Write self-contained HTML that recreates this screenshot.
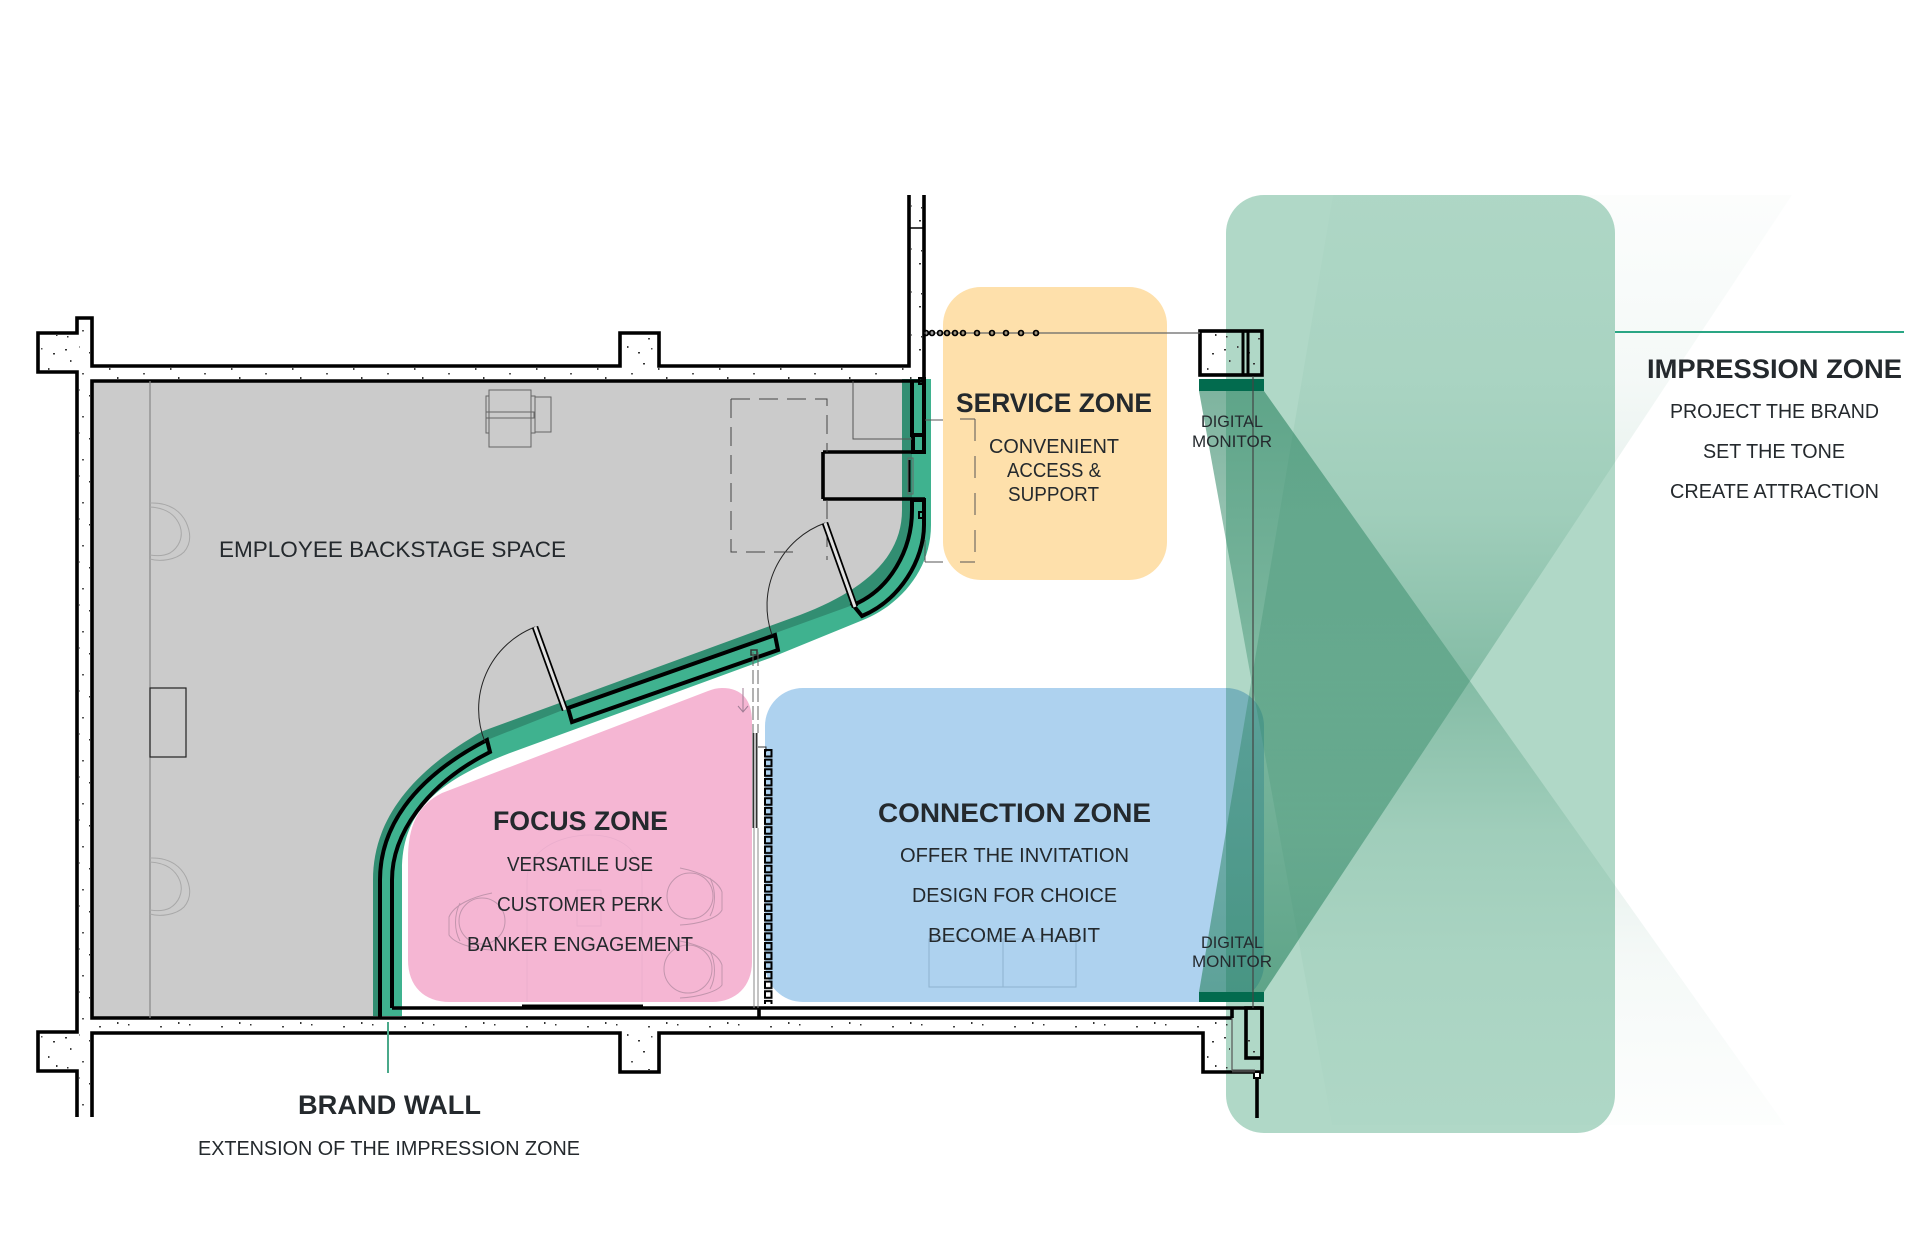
<!DOCTYPE html>
<html>
<head>
<meta charset="utf-8">
<style>
html,body{margin:0;padding:0;background:#fff;}
svg{display:block;}
text{font-family:"Liberation Sans",sans-serif;fill:#24292d;}
.b{font-weight:bold;font-size:26.5px;}
.r{font-size:20px;}
.s{font-size:17px;}
</style>
</head>
<body>
<svg width="1920" height="1242" viewBox="0 0 1920 1242" xmlns="http://www.w3.org/2000/svg">
<defs>
<pattern id="dots" width="61" height="43" patternUnits="userSpaceOnUse">
<rect x="4" y="5" width="2" height="1.5" fill="#333"/><rect x="17" y="2" width="1.5" height="2" fill="#444"/>
<rect x="28" y="8" width="2" height="1.5" fill="#333"/><rect x="41" y="4" width="1.5" height="1.5" fill="#555"/>
<rect x="53" y="9" width="2" height="1.5" fill="#333"/><rect x="9" y="16" width="1.5" height="2" fill="#444"/>
<rect x="33" y="19" width="2" height="1.5" fill="#333"/><rect x="48" y="24" width="1.5" height="2" fill="#444"/>
<rect x="21" y="29" width="2" height="1.5" fill="#555"/><rect x="6" y="35" width="1.5" height="1.5" fill="#333"/>
<rect x="38" y="37" width="2" height="1.5" fill="#444"/><rect x="56" y="33" width="1.5" height="2" fill="#333"/>
</pattern>
<pattern id="sq" x="764" y="749" width="9" height="9.65" patternUnits="userSpaceOnUse">
<rect x="1" y="1" width="6.5" height="6.5" fill="none" stroke="#000" stroke-width="2"/>
</pattern>
<linearGradient id="g1" gradientUnits="userSpaceOnUse" x1="0" y1="391" x2="0" y2="1125">
<stop offset="0" stop-color="#28825f" stop-opacity=".6"/>
<stop offset=".3" stop-color="#28825f" stop-opacity=".42"/>
<stop offset=".475" stop-color="#28825f" stop-opacity=".24"/>
<stop offset=".6" stop-color="#28825f" stop-opacity=".12"/>
<stop offset=".77" stop-color="#28825f" stop-opacity=".05"/>
<stop offset="1" stop-color="#28825f" stop-opacity=".01"/>
</linearGradient>
<linearGradient id="g2" gradientUnits="userSpaceOnUse" x1="0" y1="992" x2="0" y2="195">
<stop offset="0" stop-color="#28825f" stop-opacity=".6"/>
<stop offset=".3" stop-color="#28825f" stop-opacity=".42"/>
<stop offset=".475" stop-color="#28825f" stop-opacity=".24"/>
<stop offset=".6" stop-color="#28825f" stop-opacity=".12"/>
<stop offset=".77" stop-color="#28825f" stop-opacity=".05"/>
<stop offset="1" stop-color="#28825f" stop-opacity=".015"/>
</linearGradient>
</defs>

<!-- floor -->
<path d="M92 381H912V510C912 550 890 590 853 605L568 708L487 740C410 780 380 830 380 880V1018H92Z" fill="#cbcbcb"/>
<!-- brand wall band -->
<path d="M373 1016V880C373 825 405 775 483 731L800 615C860 592 902 560 902 510V379H931V525C931 570 900 605 863 620L770 658L510 753C440 780 402 810 402 870V1016Z" fill="#3fb28f" style="mix-blend-mode:multiply"/>

<!-- zones -->
<rect x="943" y="287" width="224" height="293" rx="38" fill="#fee0ab"/>
<path d="M722 688C742 688 752 700 752 722V962C752 986 736 1002 712 1002H450C424 1002 408 986 408 960V860C408 825 418 805 442 793L708 691C713 689 717 688 722 688Z" fill="#f5b6d3"/>
<rect x="765" y="688" width="499" height="314" rx="38" fill="#aed2ef"/>
<rect x="1226" y="195" width="389" height="938" rx="38" fill="#b0d8c7" style="mix-blend-mode:multiply"/>
<!-- beams -->
<polygon points="1199,391 1264,391 1785,1125 1332,1125" fill="url(#g1)"/>
<polygon points="1199,992 1264,992 1792,195 1333,195" fill="url(#g2)"/>
<!-- monitor bars -->
<rect x="1199" y="379" width="65" height="12" fill="#026b4e"/>
<rect x="1199" y="992" width="65" height="10" fill="#026b4e"/>

<!-- concrete speckle -->
<g fill="url(#dots)">
<rect x="92" y="368" width="830" height="11"/>
<rect x="79" y="320" width="11" height="795"/>
<rect x="40" y="335" width="38" height="35"/>
<rect x="40" y="1034" width="38" height="36"/>
<rect x="622" y="335" width="36" height="32"/>
<rect x="622" y="1034" width="36" height="36"/>
<rect x="911" y="195" width="11" height="185"/>
<rect x="92" y="1020" width="1140" height="12"/>
<rect x="1202" y="333" width="58" height="40"/>
<rect x="1205" y="1034" width="25" height="36"/>
<rect x="1248" y="1009" width="10" height="48"/>
</g>

<!-- walls -->
<g fill="none" stroke="#000" stroke-width="3.6">
<path d="M77 1117V1071H38V1032H77V372H38V333H77V318H92V366H620V333H659V366H909V195"/>
<path d="M924 195V381H92V1018H1232"/>
<path d="M92 1117V1033H620V1072H659V1033H1203V1072H1262V1007"/>
<path d="M392 1008H1262"/>
<rect x="1200" y="331" width="62" height="44"/>
<path d="M1243 331V375M1248 331V375" stroke-width="3"/>
<rect x="1246" y="1008" width="16" height="50"/>
<path d="M1232 1008V1018M759 1008V1018"/>
<path d="M1257 1074V1118"/>
<path d="M522 1006H643" stroke-width="3"/>
<!-- brand wall segments -->
<path stroke-width="4" d="M380 1018V880C380 830 410 780 487 740L490 752C425 785 392 835 392 880V1008"/>
<path stroke-width="4" d="M568 708L775 635L778 650L572 722Z"/>
<path stroke-width="4" d="M853 605C890 590 912 550 912 510V500H924V525C924 560 900 600 862 616Z"/>
<path stroke-width="4" d="M912 381V435H924V381M913 435V452H924V435"/>
<path d="M823 452H925M823 499H925M823 452V499"/>
<path d="M909 460V492" stroke-width="3"/>
<rect x="919" y="378" width="6" height="6" stroke-width="2"/>
<rect x="919" y="512" width="6" height="6" stroke-width="2"/>
<rect x="751" y="650" width="6" height="5" stroke-width="1.5" stroke="#333"/>
</g>
<rect x="1254" y="1072" width="6" height="6" fill="#fff" stroke="#000" stroke-width="2"/>
<path d="M1232 1071H1255" stroke="#444" stroke-width="3"/>

<!-- thin lines -->
<g fill="none" stroke="#555" stroke-width="1">
<path d="M924 333H1200" stroke="#666" stroke-width="1.2"/>
<path d="M1253 376V1008" stroke="#444" stroke-width="1.2"/>
<path d="M1232 1018V1071" stroke="#555" stroke-width="1.2"/>
<path d="M925 228H909" stroke="#000" stroke-width="1.5"/>
<path d="M150 381V1018" stroke="#888" stroke-width="1.2"/>
<rect x="150" y="688" width="36" height="69" stroke="#222" stroke-width="1.2"/>
<path d="M853 381V439H912" stroke="#555"/>
<path d="M535 627A88 88 0 0 0 485 742" stroke="#222"/>
<path d="M825 523A88 88 0 0 0 772 635" stroke="#222"/>
<rect x="908" y="458" width="5" height="36" stroke="#666"/>
<!-- dashed -->
<path d="M731 399H827V452M827 500V560M731 399V552H800" stroke="#444" stroke-dasharray="19 9"/>
<path d="M925 420H943M925 562H943M925 540V562" stroke="#555"/>
<path d="M975 419V562" stroke="#555" stroke-dasharray="22 15"/>
<path d="M960 419H975M960 562H975" stroke="#555"/>
<path d="M753 652V733M758 652V733" stroke="#666" stroke-dasharray="14 4"/>
<path d="M743 688V712M738 706L743 712L748 706" stroke="#a07d95"/>
<path d="M754 828V1008M758 828V1008" stroke="#888"/>
<path d="M758 747H766V752" stroke="#333"/>
<!-- copier -->
<g stroke="#666">
<rect x="489" y="390" width="42" height="57"/>
<rect x="486" y="412" width="48" height="6"/>
<rect x="535" y="397" width="16" height="35"/>
<path d="M531 396H535V433H531M489 396H486V433H489"/>
</g>
<!-- back chairs -->
<g stroke="#a8a8a8">
<path d="M150 503C172 502 182 514 186 522C192 535 190 545 184 552C176 560 160 562 150 559"/>
<path d="M150 507C168 508 176 516 180 526C184 538 178 548 170 553C164 556 156 556 150 555"/>
<path d="M150 858C172 857 182 869 186 877C192 890 190 900 184 907C176 915 160 917 150 914"/>
<path d="M150 862C168 863 176 871 180 881C184 893 178 903 170 908C164 911 156 911 150 910"/>
</g>
<!-- focus chairs -->
<g stroke="#c295ad">
<path d="M680 868C700 872 718 880 722 892V910C718 918 700 924 680 925"/>
<path d="M710 878C716 890 716 905 710 916"/>
<circle cx="690" cy="896" r="23"/>
<path d="M680 941C700 945 718 953 722 965V985C718 991 700 997 680 998"/>
<path d="M710 951C716 963 716 978 710 989"/>
<circle cx="688" cy="969" r="24"/>
<path d="M492 893C472 897 454 905 449 917V935C454 943 472 949 492 950"/>
<path d="M460 903C454 915 454 930 460 941"/>
<circle cx="482" cy="921" r="23"/>
</g>
<g stroke="#eaaecd" stroke-width=".8"><path d="M527 1002V880C527 850 560 835 590 835C620 835 642 850 642 880V1002"/><rect x="577" y="890" width="24" height="36"/></g>
<!-- tables -->
<g stroke="#8fb3cf"><rect x="929" y="939" width="147" height="48"/><path d="M1003 939V987"/></g>
</g>

<!-- doors -->
<g fill="none">
<path d="M535 627L565 710" stroke="#000" stroke-width="6.5"/><path d="M535 627L565 710" stroke="#e2e2e2" stroke-width="3"/>
<path d="M825 523L855 607" stroke="#000" stroke-width="6.5"/><path d="M825 523L855 607" stroke="#e2e2e2" stroke-width="3"/>
<path d="M755 733V828" stroke="#333" stroke-width="5"/><path d="M755 733V828" stroke="#bbb" stroke-width="2"/>
</g>

<!-- squares column -->
<rect x="764" y="749" width="9" height="255" fill="url(#sq)"/>
<!-- dotted line -->
<g fill="none" stroke="#000" stroke-width="1.8">
<circle cx="926" cy="333" r="2.4"/><circle cx="932" cy="333" r="2.4"/><circle cx="940" cy="333" r="2.4"/><circle cx="947" cy="333" r="2.4"/><circle cx="955" cy="333" r="2.4"/><circle cx="963" cy="333" r="2.4"/>
<circle cx="977" cy="333" r="2.4"/><circle cx="992" cy="333" r="2.4"/><circle cx="1006" cy="333" r="2.4"/><circle cx="1021" cy="333" r="2.4"/><circle cx="1036" cy="333" r="2.4"/>
</g>

<!-- green leaders -->
<path d="M1615 332H1904" stroke="#2aa684" stroke-width="2"/>
<path d="M388 1022V1073" stroke="#4aa98a" stroke-width="2"/>

<!-- labels -->
<text x="219" y="557" style="font-size:22px" textLength="347" lengthAdjust="spacingAndGlyphs">EMPLOYEE BACKSTAGE SPACE</text>

<text class="b" x="956" y="412" textLength="196" lengthAdjust="spacingAndGlyphs">SERVICE ZONE</text>
<text class="r" x="989" y="453" textLength="130" lengthAdjust="spacingAndGlyphs">CONVENIENT</text>
<text class="r" x="1007" y="477" textLength="94" lengthAdjust="spacingAndGlyphs">ACCESS &amp;</text>
<text class="r" x="1008" y="501" textLength="91" lengthAdjust="spacingAndGlyphs">SUPPORT</text>

<text class="s" x="1201" y="427" textLength="62" lengthAdjust="spacingAndGlyphs">DIGITAL</text>
<text class="s" x="1192" y="447" textLength="80" lengthAdjust="spacingAndGlyphs">MONITOR</text>
<text class="s" x="1201" y="948" textLength="62" lengthAdjust="spacingAndGlyphs">DIGITAL</text>
<text class="s" x="1192" y="967" textLength="80" lengthAdjust="spacingAndGlyphs">MONITOR</text>

<text class="b" x="493" y="830" textLength="175" lengthAdjust="spacingAndGlyphs">FOCUS ZONE</text>
<text class="r" x="507" y="871" textLength="146" lengthAdjust="spacingAndGlyphs">VERSATILE USE</text>
<text class="r" x="497" y="911" textLength="166" lengthAdjust="spacingAndGlyphs">CUSTOMER PERK</text>
<text class="r" x="467" y="951" textLength="226" lengthAdjust="spacingAndGlyphs">BANKER ENGAGEMENT</text>

<text class="b" x="878" y="822" textLength="273" lengthAdjust="spacingAndGlyphs">CONNECTION ZONE</text>
<text class="r" x="900" y="862" textLength="229" lengthAdjust="spacingAndGlyphs">OFFER THE INVITATION</text>
<text class="r" x="912" y="902" textLength="205" lengthAdjust="spacingAndGlyphs">DESIGN FOR CHOICE</text>
<text class="r" x="928" y="942" textLength="172" lengthAdjust="spacingAndGlyphs">BECOME A HABIT</text>

<text class="b" x="1647" y="378" textLength="255" lengthAdjust="spacingAndGlyphs">IMPRESSION ZONE</text>
<text class="r" x="1670" y="418" textLength="209" lengthAdjust="spacingAndGlyphs">PROJECT THE BRAND</text>
<text class="r" x="1703" y="458" textLength="142" lengthAdjust="spacingAndGlyphs">SET THE TONE</text>
<text class="r" x="1670" y="498" textLength="209" lengthAdjust="spacingAndGlyphs">CREATE ATTRACTION</text>

<text class="b" x="298" y="1114" textLength="183" lengthAdjust="spacingAndGlyphs">BRAND WALL</text>
<text class="r" x="198" y="1155" textLength="382" lengthAdjust="spacingAndGlyphs">EXTENSION OF THE IMPRESSION ZONE</text>
</svg>
</body>
</html>
